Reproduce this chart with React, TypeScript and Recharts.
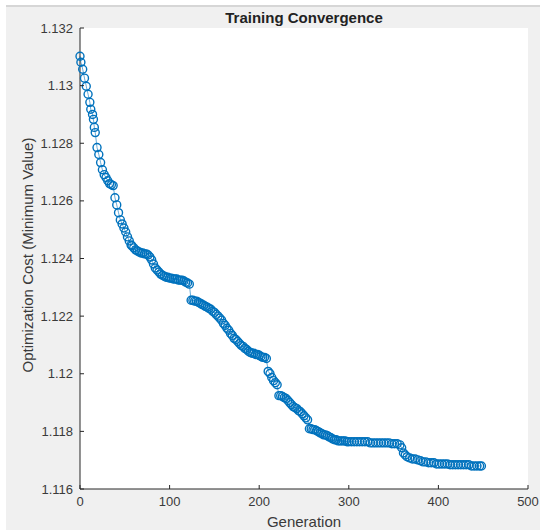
import { LineChart, Line, XAxis, YAxis, CartesianGrid } from 'recharts';

const generations = [
  0, 1, 3, 5, 7, 9, 11, 12, 14, 15,
  16, 17, 19, 21, 23, 25, 27, 29, 31, 33,
  35, 37, 39, 41, 43, 45, 47, 49, 51, 53,
  55, 57,
  58, 60, 62, 64, 66, 68, 70, 72, 74, 76,
  78, 80, 82, 84, 86, 88, 90, 92, 94, 96,
  98, 100, 102, 104, 106, 108, 110, 112, 114, 116,
  118, 120, 122, 124, 126, 128, 130, 132, 134, 136,
  138, 140, 142, 144, 146, 148, 150, 152, 154, 156,
  158, 160, 162, 164, 166, 168, 170, 172, 174, 176,
  178, 180, 182, 184, 186, 188, 190, 192, 194, 196,
  198, 200, 202, 204, 206, 208, 210, 212, 214, 216,
  218, 220, 222, 224, 226, 228, 230, 232, 234, 236,
  238, 240, 242, 244, 246, 248, 250, 252, 254, 256,
  258, 260, 262, 264, 266, 268, 270, 272, 274, 276,
  278, 280, 282, 284, 286, 288, 290, 292, 294, 296,
  298, 300,
  303, 306, 309, 312, 315, 318, 321, 324, 327, 330,
  333, 336, 339, 342, 345, 348, 351, 354, 357,
  359, 361, 363, 365,
  368, 371, 374, 377, 380, 383, 386, 389, 392, 395,
  398, 401, 404, 407, 410, 413, 416, 419, 422, 425,
  428, 431, 434, 437, 440, 443, 446, 448,
];

const minCost = [
  1.13102, 1.13081, 1.13057, 1.13026, 1.12998, 1.1297, 1.12942, 1.12918, 1.129, 1.12883,
  1.12855, 1.12837, 1.12785, 1.12761, 1.12733, 1.12708, 1.12691, 1.12681, 1.1267, 1.1266,
  1.12656, 1.12653, 1.12611, 1.12586, 1.12559, 1.12534, 1.1252, 1.12506, 1.12492, 1.12475,
  1.12461, 1.12447,
  1.12444, 1.12437, 1.1243, 1.12426, 1.12423, 1.12419, 1.12419, 1.12416, 1.12416, 1.12412,
  1.12405, 1.12395, 1.12381, 1.12367, 1.1236, 1.12353, 1.12346, 1.12342, 1.12339, 1.12335,
  1.12335, 1.12332, 1.12332, 1.12329, 1.12329, 1.12329, 1.12325, 1.12325, 1.12325, 1.12322,
  1.12318, 1.12315, 1.12311, 1.12255, 1.12255, 1.12252, 1.12252, 1.12248, 1.12245, 1.12241,
  1.12238, 1.12234, 1.12231, 1.12227, 1.12224, 1.12217, 1.12213, 1.12206, 1.122, 1.12193,
  1.12186, 1.12175, 1.12168, 1.12158, 1.12151, 1.1214, 1.12133, 1.12123, 1.12119, 1.12112,
  1.12105, 1.12098, 1.12095, 1.12088, 1.12084, 1.12078, 1.12074, 1.12071, 1.12071, 1.12067,
  1.12067, 1.12064, 1.1206, 1.12057, 1.12057, 1.12053, 1.12008, 1.12001, 1.11987, 1.11976,
  1.11969, 1.11962, 1.11924, 1.11924, 1.11921, 1.11917, 1.11914, 1.11907, 1.119, 1.11893,
  1.11886, 1.11882, 1.11879, 1.11872, 1.11868, 1.11861, 1.11854, 1.11847, 1.1184, 1.11809,
  1.11809, 1.11806, 1.11806, 1.11802, 1.11799, 1.11795, 1.11792, 1.11788, 1.11788, 1.11785,
  1.11781, 1.11778, 1.11774, 1.11771, 1.11771, 1.11767, 1.11767, 1.11767, 1.11767, 1.11767,
  1.11764, 1.11764,
  1.11764, 1.11764, 1.11764, 1.11764, 1.11764, 1.11764, 1.11764, 1.1176, 1.1176, 1.1176,
  1.1176, 1.1176, 1.1176, 1.1176, 1.1176, 1.11757, 1.11757, 1.11757, 1.11753,
  1.11743, 1.11725, 1.11718, 1.11712,
  1.11708, 1.11704, 1.11704, 1.11701, 1.11698, 1.11694, 1.11694, 1.11691, 1.11691, 1.11691,
  1.11687, 1.11687, 1.11687, 1.11687, 1.11687, 1.11684, 1.11684, 1.11684, 1.11684, 1.11684,
  1.11684, 1.11684, 1.11684, 1.1168, 1.1168, 1.1168, 1.1168, 1.1168,
];

const xTicks = [0, 100, 200, 300, 400, 500];
const yTicks = [1.116, 1.118, 1.12, 1.122, 1.124, 1.126, 1.128, 1.13, 1.132];

const data = generations.map((gen, i) => ({ gen, cost: minCost[i] }));

const FONT = '"Liberation Sans", Arial, Helvetica, sans-serif';
const AXIS = '#262626';
const TEXT = '#3a3a3a';
const BLUE = '#0072BD';

const fmt = (v: number) => String(parseFloat(v.toFixed(3)));

// matlab style: ticks point into the axes
function YTick({ x, y, payload }: any) {
  return (
    <g>
      <line x1={x + 7} x2={x + 11} y1={y} y2={y} stroke={AXIS} strokeWidth={1} />
      <text x={x} y={y} textAnchor="end" dominantBaseline="central" fontSize={13} fontFamily={FONT} fill={TEXT}>
        {fmt(payload.value)}
      </text>
    </g>
  );
}

function XTick({ x, y, payload }: any) {
  return (
    <g>
      <line x1={x} x2={x} y1={y - 6} y2={y - 10} stroke={AXIS} strokeWidth={1} />
      <text x={x} y={y + 11} textAnchor="middle" fontSize={13} fontFamily={FONT} fill={TEXT}>
        {payload.value}
      </text>
    </g>
  );
}

export default function App() {
  return (
    <div style={{ position: 'absolute', left: 0, top: 0, width: 550, height: 532, background: '#fff', fontFamily: FONT }}>
      <div style={{ position: 'absolute', left: 6, top: 5, width: 534, height: 523, background: '#f0f0f0', borderTop: '2px solid #d6d6d6' }} />
      <div style={{ position: 'absolute', left: 0, top: 0 }}>
        <LineChart width={550} height={532} data={data} margin={{ top: 28, right: 22, bottom: 0, left: 0 }}>
          <CartesianGrid fill="#ffffff" horizontal={false} vertical={false} />
          <XAxis
            dataKey="gen"
            type="number"
            domain={[0, 500]}
            ticks={xTicks}
            height={43}
            tickSize={0}
            tickMargin={6}
            tickLine={false}
            tick={<XTick />}
            axisLine={{ stroke: AXIS, strokeWidth: 1 }}
            interval={0}
          />
          <YAxis
            type="number"
            domain={[1.116, 1.132]}
            ticks={yTicks}
            width={80}
            tickSize={0}
            tickMargin={7}
            tickLine={false}
            tick={<YTick />}
            axisLine={{ stroke: AXIS, strokeWidth: 1 }}
            interval={0}
            allowDataOverflow
          />
          <Line
            type="linear"
            dataKey="cost"
            stroke={BLUE}
            strokeWidth={0.6}
            dot={{ r: 4, stroke: BLUE, strokeWidth: 1.4, fill: 'none', fillOpacity: 0 }}
            activeDot={false}
            isAnimationActive={false}
          />
        </LineChart>
      </div>
      <div style={{ position: 'absolute', left: 304, top: 10, transform: 'translateX(-50%)', whiteSpace: 'nowrap', fontSize: 15, lineHeight: '15px', fontWeight: 'bold', color: '#222' }}>
        Training Convergence
      </div>
      <div style={{ position: 'absolute', left: 304, top: 514, transform: 'translateX(-50%)', whiteSpace: 'nowrap', fontSize: 15, lineHeight: '15px', color: TEXT }}>
        Generation
      </div>
      <div style={{ position: 'absolute', left: 27, top: 255, transform: 'translate(-50%, -50%) rotate(-90deg)', whiteSpace: 'nowrap', fontSize: 15, lineHeight: '15px', color: TEXT }}>
        Optimization Cost (Minimum Value)
      </div>
    </div>
  );
}
